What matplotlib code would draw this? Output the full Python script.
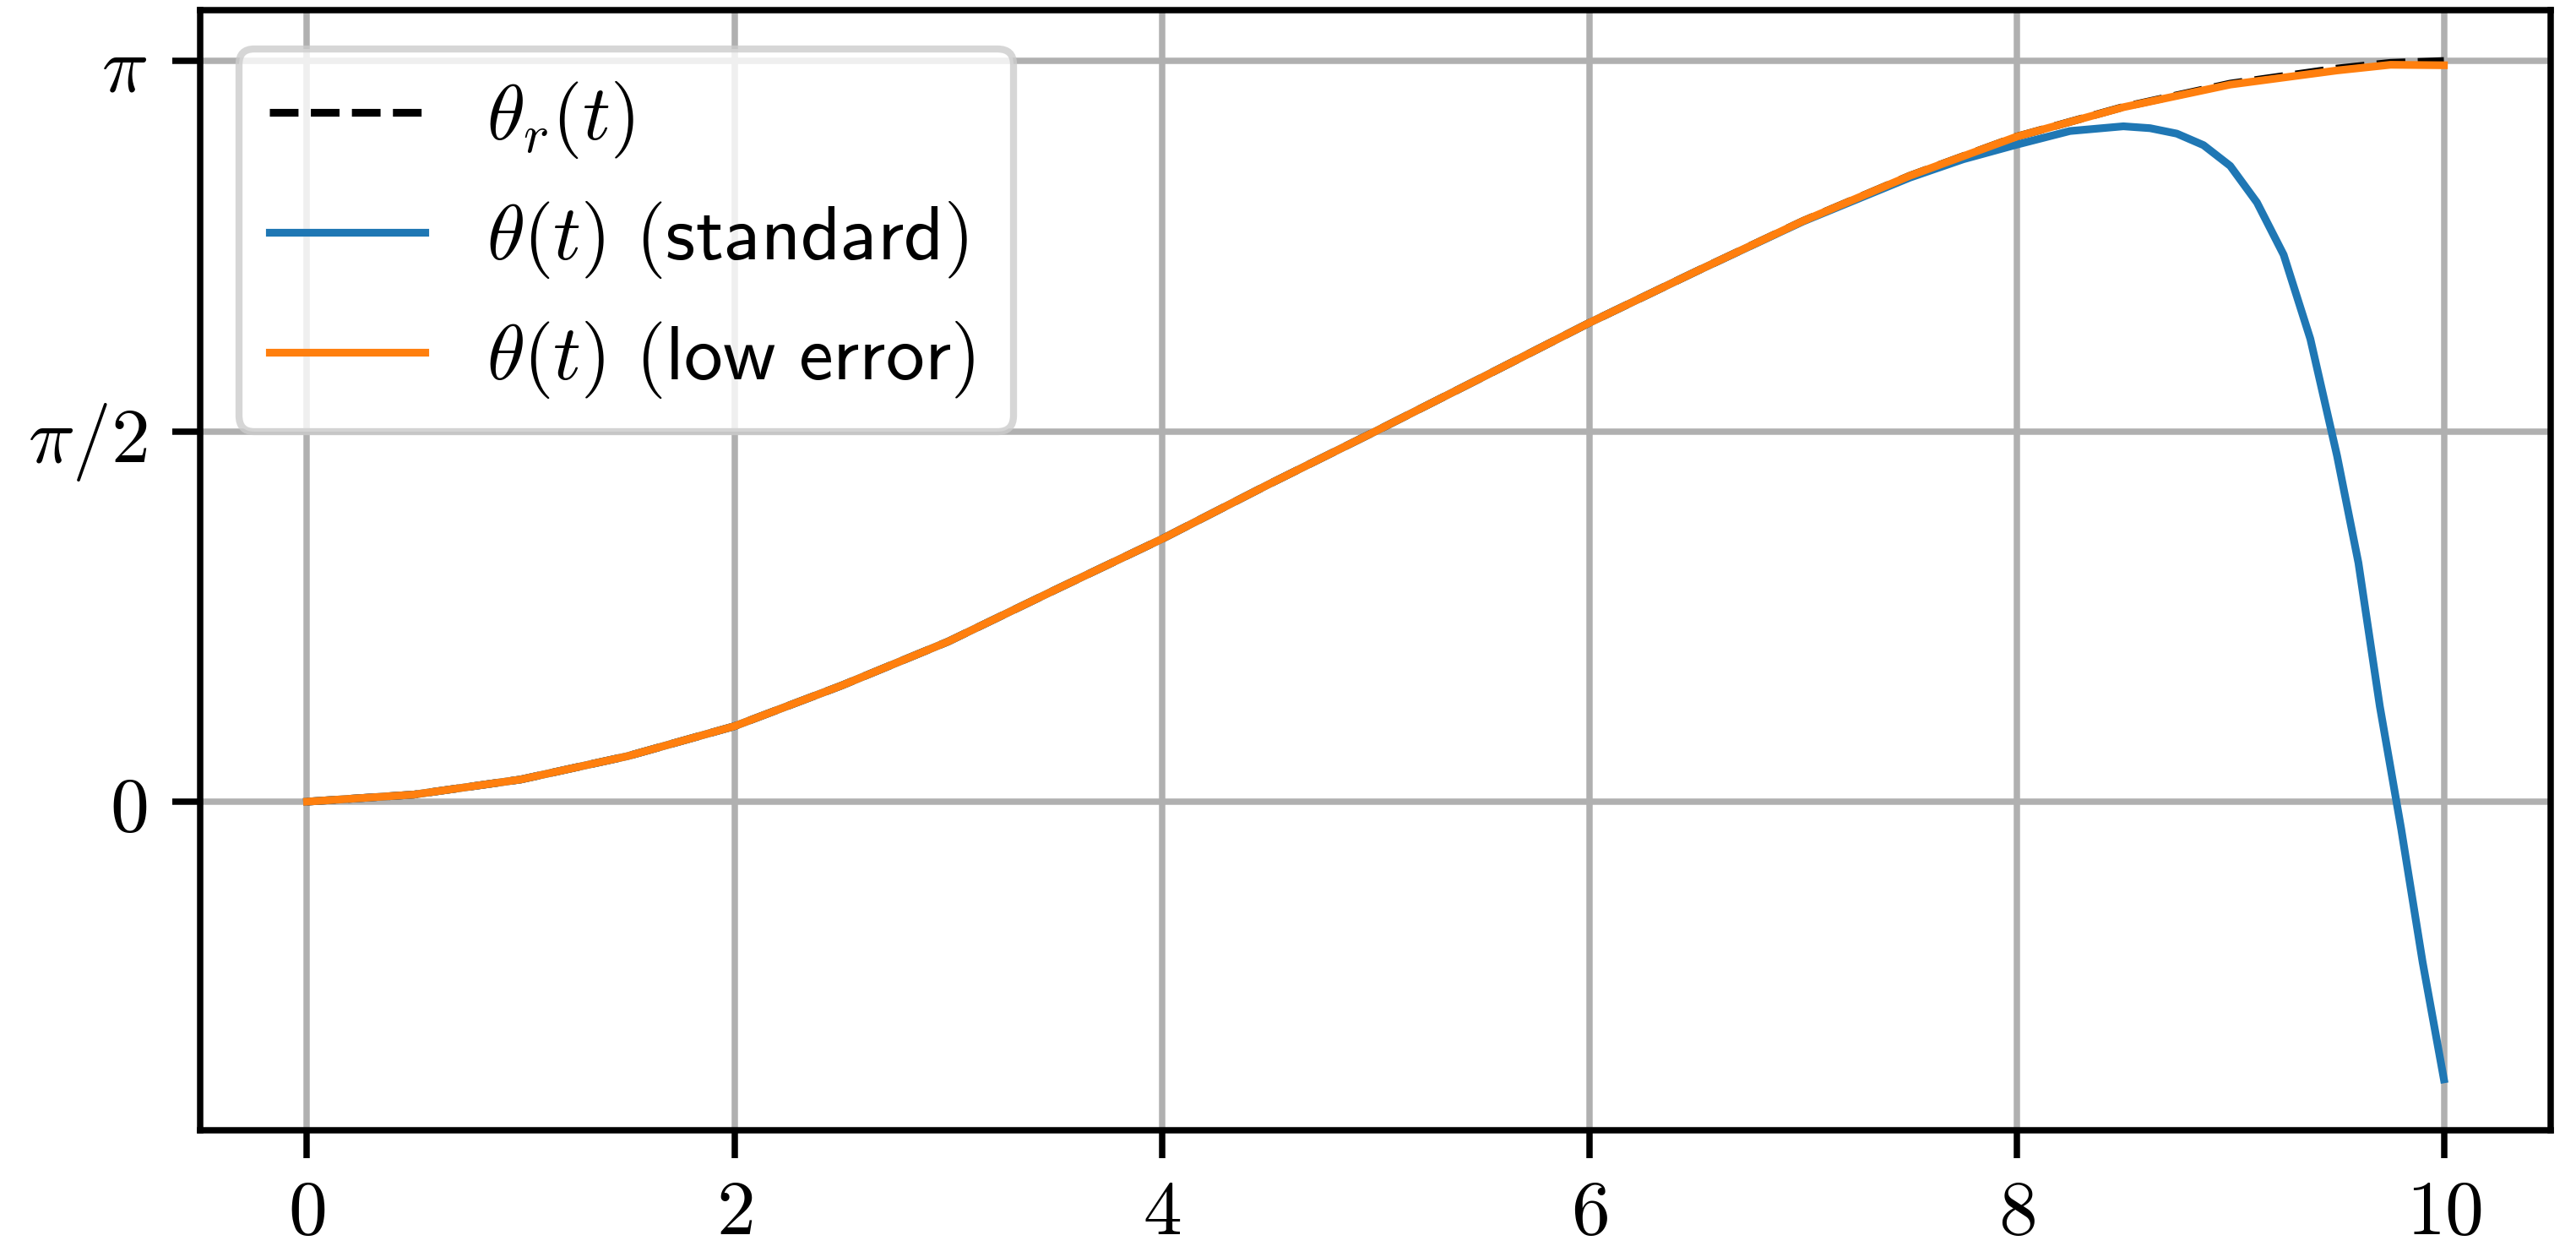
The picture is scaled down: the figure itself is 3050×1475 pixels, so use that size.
import numpy as np
import matplotlib
matplotlib.use('Agg')
import matplotlib.pyplot as plt
from matplotlib.ticker import FuncFormatter

plt.rcParams['mathtext.fontset'] = 'cm'
plt.rcParams['font.size'] = 11
plt.rcParams['axes.linewidth'] = 0.9

# reference trajectory theta_r(t) [rad]
t_ref = [0, 0.5, 1, 1.5, 2, 2.5, 3, 3.5, 4, 4.5, 5, 5.5, 6, 6.5, 7, 7.5, 8,
         8.5, 9, 9.5, 9.75, 10]
theta_ref = [0, 0.030, 0.094, 0.193, 0.320, 0.492, 0.679, 0.898, 1.114, 1.346,
             1.571, 1.800, 2.031, 2.249, 2.463, 2.655, 2.821, 2.947, 3.046,
             3.110, 3.134, 3.142]

# standard integrator
t_std = [0, 0.5, 1, 1.5, 2, 2.5, 3, 3.5, 4, 4.5, 5, 5.5, 6, 6.5, 7, 7.5, 7.75,
         8, 8.25, 8.5, 8.625, 8.75, 8.875, 9, 9.125, 9.25, 9.375, 9.5, 9.6,
         9.7, 9.8, 9.9, 10]
theta_std = [0, 0.030, 0.094, 0.193, 0.320, 0.492, 0.679, 0.898, 1.114, 1.346,
             1.571, 1.800, 2.031, 2.249, 2.461, 2.647, 2.725, 2.787, 2.845,
             2.865, 2.857, 2.834, 2.785, 2.697, 2.542, 2.320, 1.963, 1.467,
             1.013, 0.405, -0.115, -0.679, -1.178]

# low error integrator
t_low = [0, 0.5, 1, 1.5, 2, 2.5, 3, 3.5, 4, 4.5, 5, 5.5, 6, 6.5, 7, 7.5, 8,
         8.5, 9, 9.5, 9.75, 10]
theta_low = [0, 0.030, 0.094, 0.193, 0.320, 0.492, 0.679, 0.898, 1.114, 1.346,
             1.571, 1.800, 2.031, 2.249, 2.463, 2.655, 2.821, 2.946, 3.042,
             3.102, 3.126, 3.124]

fig = plt.figure(figsize=(3050 / 600, 1475 / 600), dpi=600)
ax = fig.add_axes([0.0777, 0.0929, 0.9125, 0.899])

ax.plot(t_ref, theta_ref, 'k--', lw=1.1, label=r'$\theta_r(t)$')
ax.plot(t_std, theta_std, color='C0', lw=1.1,
        label=r'$\theta(t)$ $\mathsf{(standard)}$ ')
ax.plot(t_low, theta_low, color='C1', lw=1.1,
        label=r'$\theta(t)$ $\mathsf{(low\ error)}$ ')

ax.set_yticks([0, np.pi / 2, np.pi])
ax.set_yticklabels([r'$0$', r'$\pi/2$', r'$\pi$'])
ax.xaxis.set_major_formatter(FuncFormatter(lambda v, p: f'${v:g}$'))
ax.tick_params(length=4.0, width=0.9)
ax.tick_params(axis='x', pad=2.3)

ax.grid(True, lw=0.9)
ax.legend(loc='upper left')

fig.savefig('out.png', dpi=600)
